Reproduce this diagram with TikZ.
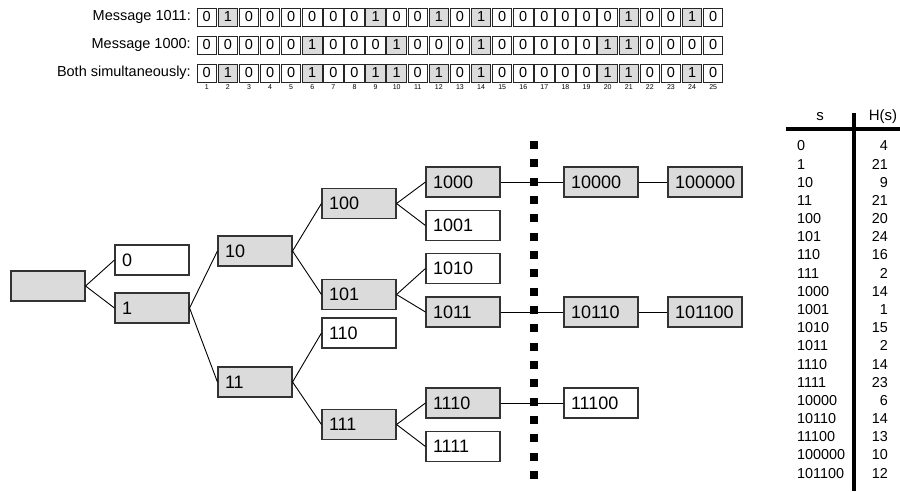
\documentclass[tikz,border=0pt]{standalone}
\usepackage{fontspec}
\setmainfont{Liberation Sans}
\colorlet{bitc0}{white}
\colorlet{bitc1}{black!14}
\begin{document}
\begin{tikzpicture}[x=1pt,y=-1pt,
  tbox/.style={draw=black!80, line width=1.1pt, minimum height=30pt, text width=60pt, inner xsep=7pt, inner ysep=0pt, align=left, font=\fontsize{18}{21}\selectfont},
  gbox/.style={tbox, fill=black!14},
  wbox/.style={tbox, fill=white},
  bit/.style={draw=black!85, line width=0.9pt, minimum width=19.5pt, minimum height=18pt, inner sep=0pt, font=\fontsize{14.5}{16}\selectfont},
  rowlab/.style={anchor=east, inner sep=0pt, font=\fontsize{14.5}{16}\selectfont},
  idx/.style={inner sep=0pt, font=\fontsize{7}{8}\selectfont},
  conn/.style={line width=0.9pt},
  dotsq/.style={fill=black, minimum size=8pt, inner sep=0pt},
  tabtxt/.style={inner sep=0pt, font=\fontsize{14.4}{16}\selectfont}
]
\useasboundingbox (0,0) rectangle (900,491);

% ---- bit rows ----
\node[rowlab] (la) at (191,17) {Message 1011:};
\node[rowlab] (lb) at (191,45) {Message 1000:};
\node[rowlab] (lc) at (191,73) {Both simultaneously:};
\foreach \b [count=\i] in {0,1,0,0,0,0,0,0,1,0,0,1,0,1,0,0,0,0,0,0,1,0,0,1,0}
  \node[bit, fill=bitc\b] (a\i) at ({206.75+21.1*(\i-1)},17) {\b};
\foreach \b [count=\i] in {0,0,0,0,0,1,0,0,0,1,0,0,0,1,0,0,0,0,0,1,1,0,0,0,0}
  \node[bit, fill=bitc\b] (b\i) at ({206.75+21.1*(\i-1)},45) {\b};
\foreach \b [count=\i] in {0,1,0,0,0,1,0,0,1,1,0,1,0,1,0,0,0,0,0,1,1,0,0,1,0}
  \node[bit, fill=bitc\b] (c\i) at ({206.75+21.1*(\i-1)},73) {\b};
\foreach \i in {1,...,25}
  \node[idx] (n\i) at ({206.75+21.1*(\i-1)},87.5) {\i};

% ---- tree ----
\node[gbox] (r) at (48,286) {};
\node[wbox] (s0) at (152,260) {0};
\node[gbox] (s1) at (152,308) {1};
\node[gbox] (s10) at (255,251) {10};
\node[gbox] (s11) at (255,382) {11};
\node[gbox] (s100) at (359,203.5) {100};
\node[gbox] (s101) at (359,294.5) {101};
\node[wbox] (s110) at (359,333) {110};
\node[gbox] (s111) at (359,424.5) {111};
\node[gbox] (s1000) at (463,182) {1000};
\node[wbox] (s1001) at (463,225.5) {1001};
\node[wbox] (s1010) at (463,268.5) {1010};
\node[gbox] (s1011) at (463,312) {1011};
\node[gbox] (s1110) at (463,403) {1110};
\node[wbox] (s1111) at (463,446.5) {1111};
\node[gbox] (s10000) at (601,182) {10000};
\node[gbox] (s10110) at (601,312) {10110};
\node[wbox] (s11100) at (601,403) {11100};
\node[gbox] (s100000) at (705,182) {100000};
\node[gbox] (s101100) at (705,312) {101100};

\foreach \p/\c in {r/s0, r/s1, s1/s10, s1/s11, s10/s100, s10/s101, s11/s110, s11/s111,
  s100/s1000, s100/s1001, s101/s1010, s101/s1011, s111/s1110, s111/s1111,
  s1000/s10000, s1011/s10110, s1110/s11100, s10000/s100000, s10110/s101100}
  \draw[conn] (\p.east) -- (\c.west);

% ---- dotted separator ----
\foreach \k in {0,...,18}
  \node[dotsq] (d\k) at (534,{145+18.33*\k}) {};

% ---- table ----
\node[inner sep=0pt, font=\fontsize{15}{17}\selectfont] (hs) at (820,117) {s};
\node[inner sep=0pt, font=\fontsize{15}{17}\selectfont] (hh) at (883,117) {H(s)};
\draw[line width=4pt] (786,129) -- (900,129);
\draw[line width=4.5pt] (854,113) -- (854,491);
\foreach \s/\h [count=\k from 0] in {0/4,1/21,10/9,11/21,100/20,101/24,110/16,111/2,1000/14,1001/1,1010/15,1011/2,1110/14,1111/23,10000/6,10110/14,11100/13,100000/10,101100/12}
{
  \node[tabtxt, anchor=west] (ts\k) at (797,{146+18.17*\k}) {\s};
  \node[tabtxt, anchor=east] (th\k) at (888,{146+18.17*\k}) {\h};
}
\end{tikzpicture}
\end{document}
